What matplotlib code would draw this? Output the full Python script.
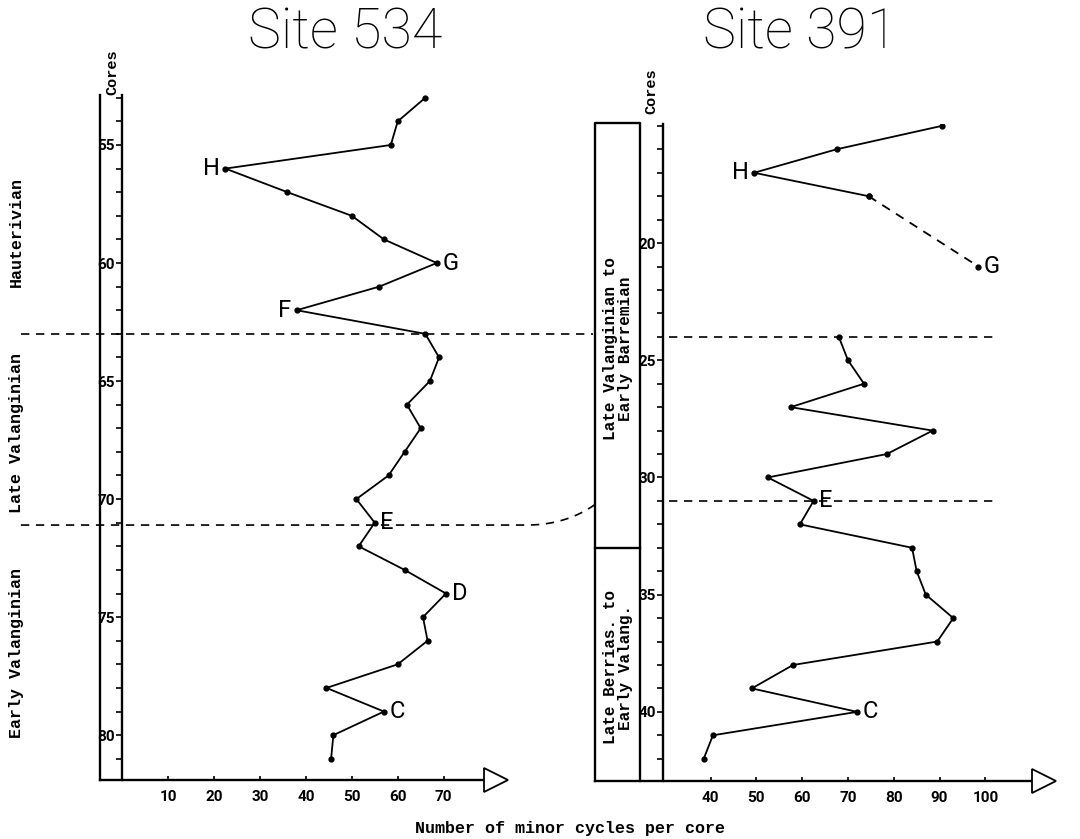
import numpy as np
import matplotlib
matplotlib.use("Agg")
import matplotlib.pyplot as plt

# ==============================================================
# Data
# ==============================================================
cores_534 = [53, 54, 55, 56, 57, 58, 59, 60, 61, 62, 63, 64, 65, 66, 67,
             68, 69, 70, 71, 72, 73, 74, 75, 76, 77, 78, 79, 80, 81]
cycles_534 = [66, 60, 58.5, 22.5, 36, 50, 57, 68.5, 56, 38, 66, 69, 67, 62, 65,
              61.5, 58, 51, 55, 51.5, 61.5, 70.5, 65.5, 66.5, 60, 44.5, 57, 46, 45.5]
labels_534 = {56: ("H", "left"), 60: ("G", "right"), 62: ("F", "left"),
              71: ("E", "right"), 74: ("D", "right"), 79: ("C", "right")}

# site 391: upper run, gap (dashed), lower run
cores_391_top = [15, 16, 17, 18]
cycles_391_top = [90.5, 67.5, 49.5, 74.5]
cores_391_gap = [18, 21]
cycles_391_gap = [74.5, 98.5]
cores_391_low = [24, 25, 26, 27, 28, 29, 30, 31, 32, 33, 34, 35, 36, 37, 38,
                 39, 40, 41, 42]
cycles_391_low = [68, 70, 73.5, 57.5, 88.5, 78.5, 52.5, 62.5, 59.5, 84, 85, 87,
                  93, 89.5, 58, 49, 72, 40.5, 38.5]
labels_391 = {17: ("H", "left"), 21: ("G", "right"), 31: ("E", "right"),
              40: ("C", "right")}

xticks_534 = [10, 20, 30, 40, 50, 60, 70]
xticks_391 = [40, 50, 60, 70, 80, 90, 100]
ylabels_534 = [55, 60, 65, 70, 75, 80]
ylabels_391 = [20, 25, 30, 35, 40]

stages_534 = ["Hauterivian", "Late Valanginian", "Early Valanginian"]
stage_mid_534 = [58.7, 67.2, 76.5]
stages_391 = ["Late Valanginian to\nEarly Barremian", "Late Berrias. to\nEarly Valang."]
stage_mid_391 = [24.5, 38.1]

# ==============================================================
# Styles
# ==============================================================
LW = 1.3
MONO = ["Liberation Mono", "DejaVu Sans Mono"]
NARROW = ["Roboto", "DejaVu Sans"]
THIN = ["Roboto", "DejaVu Sans"]
DASH = (0, (5, 4))

fig = plt.figure(figsize=(10.8, 8.39), dpi=100)
ax1 = fig.add_axes([122 / 1080, 1 - 780 / 839, 386 / 1080, (780 - 95.4) / 839])
ax2 = fig.add_axes([663 / 1080, 1 - 781 / 839, 391 / 1080, (781 - 124) / 839])
ax1.set_xlim(0, 84)
ax1.set_ylim(81.9, 52.9)
ax2.set_xlim(29.6, 115)
ax2.set_ylim(42.95, 14.92)


def style_axis(ax, xticks, ylabels, ymin, ymax):
    for s in ["top", "right", "bottom"]:
        ax.spines[s].set_visible(False)
    ax.spines["left"].set_linewidth(LW * 1.3)
    ax.set_xticks(xticks)
    ax.set_xticklabels([str(t) for t in xticks], family=NARROW,
                       fontweight="bold", fontsize=11)
    ax.tick_params(axis="x", direction="in", length=3, width=1.2, pad=7)
    ax.set_yticks(ylabels)
    ax.set_yticklabels([str(c) for c in ylabels], family=NARROW,
                       fontweight="bold", fontsize=11)
    ax.set_yticks(list(range(ymin, ymax + 1)), minor=True)
    ax.tick_params(axis="y", which="both", direction="out", length=4,
                   width=1.2, pad=1)


style_axis(ax1, xticks_534, ylabels_534, 53, 81)
style_axis(ax2, xticks_391, ylabels_391, 15, 42)

# ==============================================================
# Site 534
# ==============================================================
ax1.plot(cycles_534, cores_534, color="black", lw=LW, marker="o", ms=3.5)
for c, (lab, side) in labels_534.items():
    v = cycles_534[cores_534.index(c)]
    off = -4 if side == "left" else 4
    ax1.annotate(lab, (v, c), xytext=(off, 0), textcoords="offset points",
                 ha="right" if side == "left" else "left", va="center",
                 fontsize=17, family=THIN)

# frame: outer line, base line, arrow
ax1.plot([-4.8, -4.8], [52.9, 81.9], color="black", lw=LW * 1.3, clip_on=False)
ax1.plot([-4.8, 79.2], [81.9, 81.9], color="black", lw=LW * 1.3, clip_on=False)
ax1.plot([81.3], [81.9], marker=">", ms=17, mfc="white", mec="black",
         mew=1.3, clip_on=False)

# stage boundaries
ax1.plot([-22, 102.5], [63, 63], color="black", lw=1.2, ls=DASH, clip_on=False)
t = np.linspace(0, 1, 20)
bx = (1 - t) ** 2 * 88 + 2 * (1 - t) * t * 97 + t ** 2 * 103.5
by = (1 - t) ** 2 * 71.1 + 2 * (1 - t) * t * 71.1 + t ** 2 * 70.15
ax1.plot(np.r_[-22, bx], np.r_[71.1, by], color="black", lw=1.2, ls=DASH,
         clip_on=False)

for name, mid in zip(stages_534, stage_mid_534):
    ax1.text(-23, mid, name, rotation=90, ha="center", va="center",
             family=MONO, fontsize=12, fontweight="bold")
ax1.text(-2.0, 51.9, "Cores", rotation=90, ha="center", va="center",
         family=MONO, fontsize=11, fontweight="bold")

# ==============================================================
# Site 391
# ==============================================================
ax2.plot(cycles_391_top, cores_391_top, color="black", lw=LW, marker="o", ms=3.5)
ax2.plot(cycles_391_gap, cores_391_gap, color="black", lw=LW, ls=DASH,
         marker="o", ms=3.5)
ax2.plot(cycles_391_low, cores_391_low, color="black", lw=LW, marker="o", ms=3.5)
all_c = cores_391_top + cores_391_gap + cores_391_low
all_v = cycles_391_top + cycles_391_gap + cycles_391_low
for c, (lab, side) in labels_391.items():
    v = all_v[all_c.index(c)]
    off = -4 if side == "left" else 4
    ax2.annotate(lab, (v, c), xytext=(off, 0), textcoords="offset points",
                 ha="right" if side == "left" else "left", va="center",
                 fontsize=17, family=THIN)

# stage box
bl, br, btop, bdiv, bbot = 14.75, 24.6, 14.87, 33.0, 42.95
ax2.plot([bl, bl, br, br], [bbot, btop, btop, bbot], color="black",
         lw=LW * 1.3, clip_on=False)
ax2.plot([bl, br], [bdiv, bdiv], color="black", lw=LW * 1.3, clip_on=False)
ax2.plot([bl, 110.4], [bbot, bbot], color="black", lw=LW * 1.3, clip_on=False)
ax2.plot([112.8], [bbot], marker=">", ms=17, mfc="white", mec="black",
         mew=1.3, clip_on=False)
for name, mid in zip(stages_391, stage_mid_391):
    ax2.text((bl + br) / 2, mid, name, rotation=90, ha="center", va="center",
             multialignment="center", family=MONO, fontsize=11.5,
             fontweight="bold", linespacing=1.0)
ax2.text(27.0, 13.5, "Cores", rotation=90, ha="center", va="center",
         family=MONO, fontsize=11, fontweight="bold")

ax2.plot([31, 103], [24, 24], color="black", lw=1.2, ls=DASH, clip_on=False)
ax2.plot([31, 103], [31, 31], color="black", lw=1.2, ls=DASH, clip_on=False)

# ==============================================================
# Titles and common label
# ==============================================================
fig.text(345 / 1080, 1 - 33 / 839, "Site 534", ha="center", va="center",
         fontsize=40, family=THIN, fontweight="light")
fig.text(800 / 1080, 1 - 33 / 839, "Site 391", ha="center", va="center",
         fontsize=40, family=THIN, fontweight="light")
fig.text(570 / 1080, 1 - 829 / 839, "Number of minor cycles per core",
         ha="center", va="center", family=MONO, fontsize=12, fontweight="bold")

fig.savefig("out.png", dpi=100)
